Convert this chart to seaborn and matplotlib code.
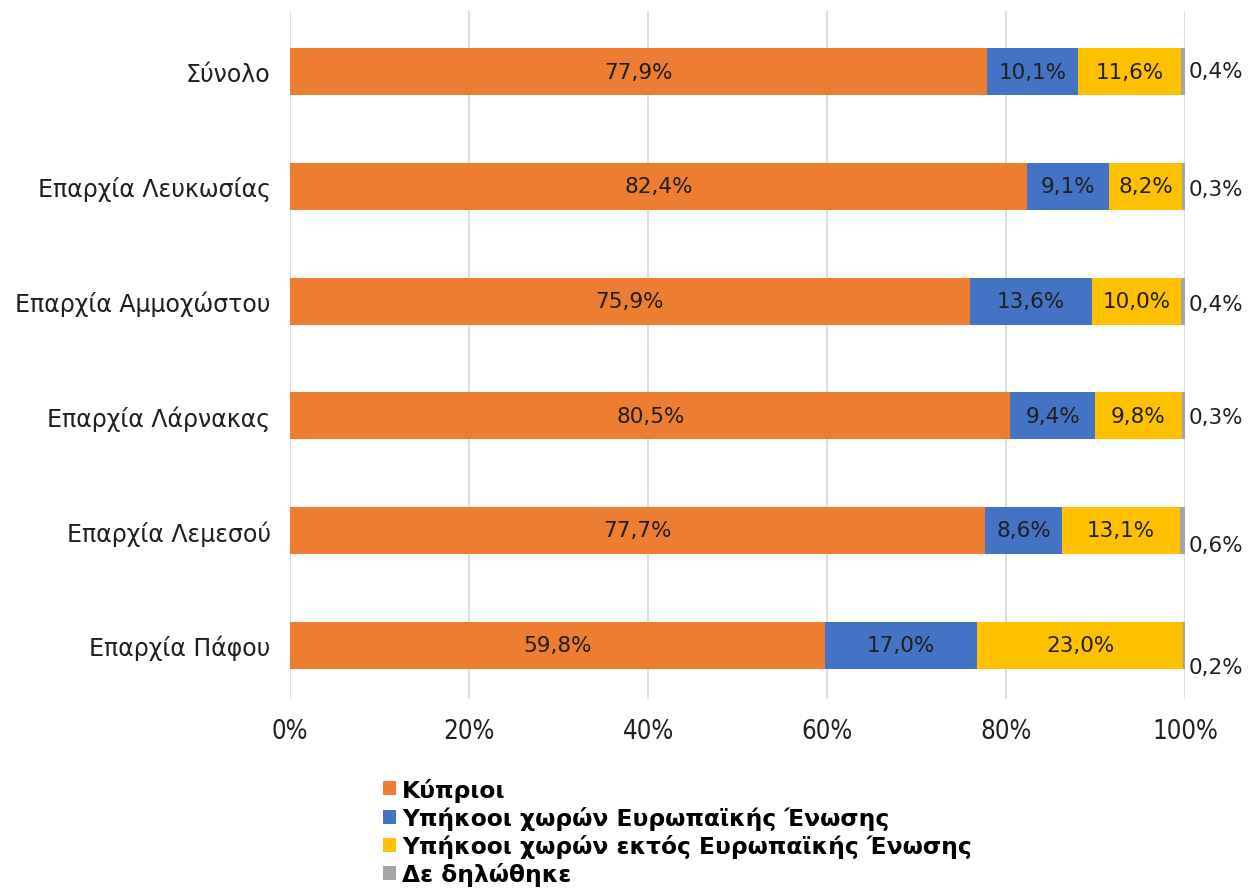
import matplotlib
matplotlib.use("Agg")
import matplotlib.pyplot as plt
import seaborn as sns
import numpy as np
import pandas as pd
from matplotlib.patches import Patch

categories = ["Σύνολο", "Επαρχία Λευκωσίας", "Επαρχία Αμμοχώστου",
              "Επαρχία Λάρνακας", "Επαρχία Λεμεσού", "Επαρχία Πάφου"]
series_names = ["Κύπριοι", "Υπήκοοι χωρών Ευρωπαϊκής Ένωσης",
                "Υπήκοοι χωρών εκτός Ευρωπαϊκής Ένωσης", "Δε δηλώθηκε"]
cypriots = [77.9, 82.4, 75.9, 80.5, 77.7, 59.8]
eu = [10.1, 9.1, 13.6, 9.4, 8.6, 17.0]
non_eu = [11.6, 8.2, 10.0, 9.8, 13.1, 23.0]
not_declared = [0.4, 0.3, 0.4, 0.3, 0.6, 0.2]
xtick_labels = ["0%", "20%", "40%", "60%", "80%", "100%"]

colors = ["#ED7D31", "#4472C4", "#FFC000", "#A5A5A5"]
label_dy = [-0.01, 0.026, 0.022, 0.01, 0.13, 0.19]  # vertical offsets for outside labels

sns.set_theme(style="white")
plt.rcParams["font.family"] = ["DejaVu Sans"]

vals = np.array([cypriots, eu, non_eu, not_declared])
vals = vals / vals.sum(axis=0) * 100  # 100% stacked
cum = np.cumsum(vals, axis=0)

fig = plt.figure(figsize=(12.5, 8.95), dpi=100)
ax = fig.add_axes([0.232, 0.218, 0.716, 0.7686])

for i in range(3, -1, -1):
    df = pd.DataFrame({"cat": categories, "val": cum[i]})
    sns.barplot(data=df, y="cat", x="val", orient="h", color=colors[i],
                width=0.41, saturation=1, ax=ax, edgecolor="none", linewidth=0)

txt_color = "#1F1F1F"
raw = [cypriots, eu, non_eu, not_declared]
for i in range(3):
    for j in range(len(categories)):
        xc = cum[i][j] - vals[i][j] / 2
        ax.text(xc, j, f"{raw[i][j]:.1f}%".replace(".", ","), ha="center", va="center",
                fontsize=15.5, color=txt_color)
for j in range(len(categories)):
    ax.text(100.4, j + label_dy[j], f"{not_declared[j]:.1f}%".replace(".", ","),
            ha="left", va="center", fontsize=15.5, color=txt_color)

ax.set_xlim(0, 100)
ax.set_ylim(5.47, -0.53)
ax.set_xticks([0, 20, 40, 60, 80, 100])
ax.set_xticklabels(xtick_labels, fontsize=18.5, color=txt_color, fontstretch="condensed")
ax.tick_params(axis="x", pad=14, length=0)
ax.tick_params(axis="y", labelsize=17, labelcolor=txt_color, pad=14, length=0)
ax.set_xlabel("")
ax.set_ylabel("")
ax.grid(axis="x", color="#D9D9D9", linewidth=1.2)
ax.set_axisbelow(True)
for s in ax.spines.values():
    s.set_visible(False)

handles = [Patch(facecolor=c, edgecolor="none") for c in colors]
fig.legend(handles, series_names, loc="upper left", bbox_to_anchor=(0.299, 0.1405),
           frameon=False, ncol=1, handlelength=0.55, handleheight=0.55,
           handletextpad=0.25, labelspacing=0.18, borderaxespad=0,
           prop={"weight": "bold", "size": 16.8}, labelcolor="black")

fig.savefig("out.png", dpi=100)
